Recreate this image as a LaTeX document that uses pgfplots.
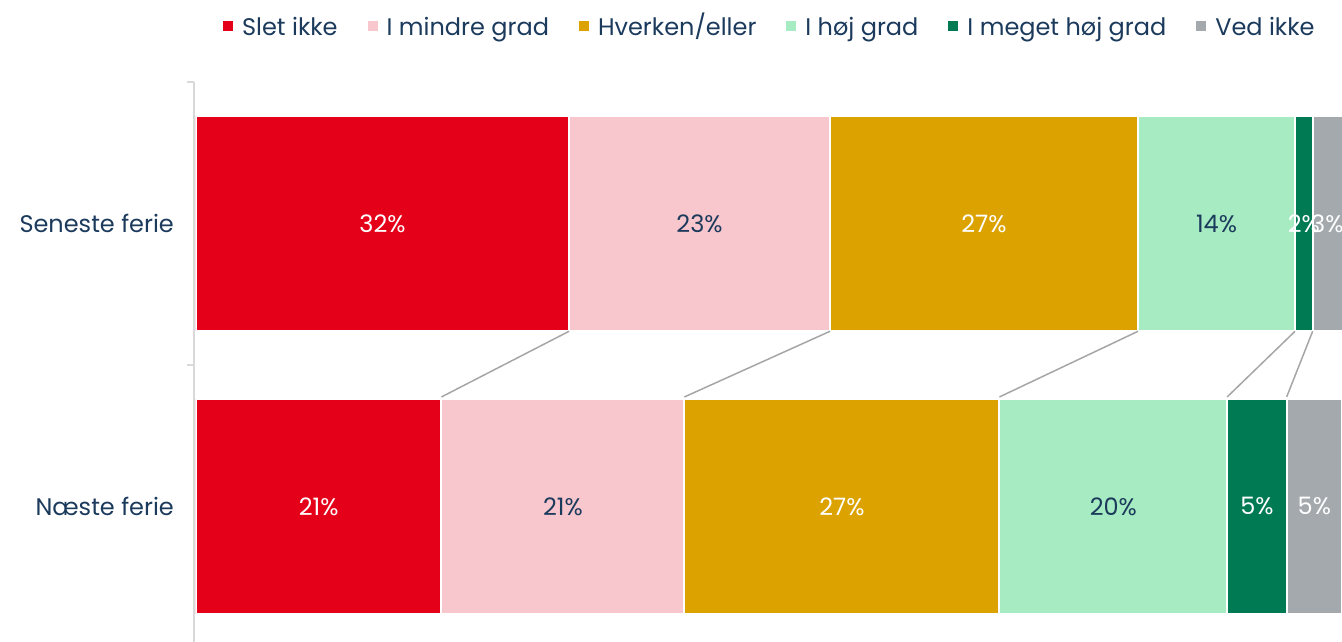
\documentclass[border=0pt]{standalone}
\usepackage{fontspec}
\setmainfont{Poppins}
\usepackage{pgfplots}
\pgfplotsset{compat=1.18}
\definecolor{cRed}{HTML}{E50019}
\definecolor{cPink}{HTML}{F8C6CD}
\definecolor{cGold}{HTML}{DBA200}
\definecolor{cLGreen}{HTML}{A6EBC1}
\definecolor{cDGreen}{HTML}{007A52}
\definecolor{cGray}{HTML}{A3A9AD}
\definecolor{cNavy}{HTML}{1B3A5C}
\definecolor{cAxis}{HTML}{D9D9D9}
\definecolor{cLine}{HTML}{A6A6A6}
\newcommand{\fs}{\fontsize{24}{28}\selectfont}
\begin{document}
\begin{tikzpicture}[x=1pt,y=1pt]
\path[use as bounding box] (-196,0) rectangle (1146,642);
\pgfplotsset{
  common/.style={
    at={(0,0)}, anchor=south west,
    scale only axis, width=1146pt, height=560pt,
    xmin=0, xmax=100, ymin=-0.479, ymax=1.5,
  },
  bars/.style={fill=#1, draw=white, line width=2pt},
}
\begin{axis}[common,
  xbar stacked, bar width=0.76,
  hide x axis,
  axis y line*=left,
  y axis line style={cAxis, line width=2pt, xshift=-1.5pt},
  ytick={0,1},
  yticklabels={Næste ferie, Seneste ferie},
  major tick length=0pt,
  yticklabel style={font=\fs, text=cNavy, anchor=east, inner sep=0pt, xshift=-22pt},
  extra y ticks={0.5,1.5},
  extra y tick labels={},
  extra y tick style={major tick length=7pt, tick align=outside, major tick style={cAxis, line width=2pt, xshift=-1.5pt}},
  legend columns=6,
  legend style={draw=none, fill=none, at={(axis description cs:0.978,1.0946)}, anchor=east,
    font=\fs, text=cNavy,
    nodes={text height=17pt, text depth=5pt},
    /tikz/every odd column/.append style={column sep=7pt},
    /tikz/every even column/.append style={column sep=28pt},
    inner sep=0pt},
  legend image code/.code={\fill[#1, draw=none] (0pt,-2pt) rectangle (10pt,8pt);},
]
\addplot[bars=cRed] coordinates {(21.42,0) (32.55,1)};
\addlegendentry{Slet ikke}
\addplot[bars=cPink] coordinates {(21.20,0) (22.77,1)};
\addlegendentry{I mindre grad}
\addplot[bars=cGold] coordinates {(27.49,0) (26.88,1)};
\addlegendentry{Hverken/eller}
\addplot[bars=cLGreen] coordinates {(19.87,0) (13.70,1)};
\addlegendentry{I høj grad}
\addplot[bars=cDGreen] coordinates {(5.19,0) (1.54,1)};
\addlegendentry{I meget høj grad}
\addplot[bars=cGray] coordinates {(4.83,0) (2.64,1)};
\addlegendentry{Ved ikke}
\end{axis}
\begin{axis}[common, hide axis, clip=false]
\addplot[cLine, line width=1.5pt] coordinates {(32.55,0.619) (21.42,0.387)};
\addplot[cLine, line width=1.5pt] coordinates {(55.32,0.619) (42.62,0.387)};
\addplot[cLine, line width=1.5pt] coordinates {(82.20,0.619) (70.11,0.387)};
\addplot[cLine, line width=1.5pt] coordinates {(95.90,0.619) (89.98,0.387)};
\addplot[cLine, line width=1.5pt] coordinates {(97.44,0.619) (95.17,0.387)};
\addplot[only marks, mark=none, nodes near coords, point meta=explicit symbolic,
  nodes near coords align=center,
  every node near coord/.append style={text=white, font=\fs, inner sep=0pt}]
  coordinates {(16.27,1) [32\%] (68.76,1) [27\%] (96.67,1) [2\%] (98.72,1) [3\%]
               (10.71,0) [21\%] (56.37,0) [27\%] (92.58,0) [5\%] (97.59,0) [5\%]};
\addplot[only marks, mark=none, nodes near coords, point meta=explicit symbolic,
  nodes near coords align=center,
  every node near coord/.append style={text=cNavy, font=\fs, inner sep=0pt}]
  coordinates {(43.94,1) [23\%] (89.05,1) [14\%] (32.02,0) [21\%] (80.05,0) [20\%]};
\end{axis}
\end{tikzpicture}
\end{document}
